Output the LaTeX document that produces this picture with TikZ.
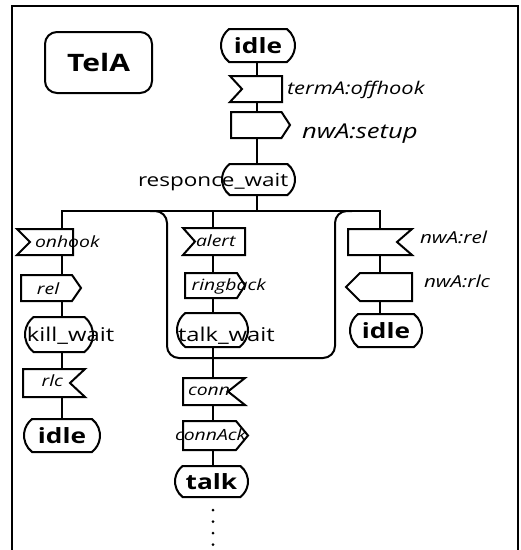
\documentclass[tikz,border=0pt]{standalone}
\usepackage{fontspec}
\setmainfont{Open Sans}[FakeStretch=1.25]
\usetikzlibrary{shapes.misc}

% SDL signal outlines drawn round a (rectangular) frame node
\newcommand\sdlInL[2]{\draw[box] (#1.north west) -- (#1.north east) -- (#1.south east)
  -- (#1.south west) -- ([xshift=#2]#1.west) -- cycle;}
\newcommand\sdlInR[2]{\draw[box] (#1.north west) -- (#1.north east) -- ([xshift=-#2]#1.east)
  -- (#1.south east) -- (#1.south west) -- cycle;}
\newcommand\sdlOutR[2]{\draw[box] (#1.north west) -- ([xshift=-#2]#1.north east) -- (#1.east)
  -- ([xshift=-#2]#1.south east) -- (#1.south west) -- cycle;}
\newcommand\sdlOutL[2]{\draw[box] ([xshift=#2]#1.north west) -- (#1.north east) -- (#1.south east)
  -- ([xshift=#2]#1.south west) -- (#1.west) -- cycle;}

\begin{document}
\begin{tikzpicture}[x=1pt,y=-1pt,
  every node/.style={inner sep=0pt, outer sep=0pt},
  ln/.style={line width=2pt},
  box/.style={draw, line width=2pt, fill=white, line join=miter},
  frame/.style={rectangle},
  statebox/.style={draw, line width=2pt, fill=white, rounded rectangle, rounded rectangle arc length=105},
  sig/.style={anchor=base west, font=\fontsize{15.5}{17}\selectfont\itshape},
  stname/.style={anchor=base west, font=\fontsize{19}{21}\selectfont},
  stbold/.style={font=\fontsize{21}{23}\selectfont\bfseries},
  dotline/.style={line width=3pt, line cap=round, dash pattern=on 0pt off 11.5pt}
]
\useasboundingbox (0,0) rectangle (521,550);

% outer frame, open at the bottom
\draw[line width=1.3pt] (12,550) -- (12,6) -- (518,6) -- (518,550);

% process name
\node[draw, line width=2pt, rounded corners=12pt, minimum width=107pt,
      minimum height=61pt, font=\fontsize{24}{26}\selectfont\bfseries]
      (title) at (98.5,62.5) {TelA};

% column positions
\coordinate (cM) at (257,0);
\coordinate (cL) at (62,0);
\coordinate (cC) at (213,0);
\coordinate (cR) at (380,0);
\coordinate (busL) at (62,211);
\coordinate (busR) at (380,211);

% main column
\node[statebox, stbold, minimum width=74pt, minimum height=33pt] (idleA) at (258,45.5) {idle};
\node[frame, minimum width=52pt, minimum height=26pt] (offhook) at (256,89) {};
\node[frame, minimum width=59pt, minimum height=26pt] (setup) at (260.5,125) {};
\node[statebox, minimum width=73pt, minimum height=31pt] (rwait) at (258.5,179.5) {};
\sdlInL{offhook}{12pt}
\sdlOutR{setup}{8.5pt}

\node[sig, font=\fontsize{17.5}{19}\selectfont\itshape] (lofhk) at (287,94) {termA:offhook};
\node[sig, font=\fontsize{20.5}{22}\selectfont\itshape] (lsetup) at (302,138) {nwA:setup};
\node[stname, font=\fontsize{18}{20}\selectfont] (lrwait) at (138,186.7) {responce\_wait};

% left branch
\node[frame, minimum width=56pt, minimum height=26pt] (onhook) at (45,242) {};
\node[frame, minimum width=60pt, minimum height=26pt] (rel) at (51,288) {};
\node[statebox, minimum width=68pt, minimum height=35pt] (kwait) at (59,334.5) {};
\node[frame, minimum width=62pt, minimum height=28pt] (rlc) at (54,383) {};
\node[statebox, stbold, minimum width=76pt, minimum height=33pt] (idleB) at (62,435.5) {idle};
\sdlInL{onhook}{13pt}
\sdlOutR{rel}{9pt}
\sdlInR{rlc}{15pt}

\node[sig] (lonhk) at (35,247) {onhook};
\node[sig] (lrel) at (37,294) {rel};
\node[stname] (lkwait) at (27,341.7) {kill\_wait};
\node[sig] (lrlc) at (41.7,386.7) {rlc};

% centre branch
\node[frame, minimum width=62pt, minimum height=27pt] (alert) at (214,241.5) {};
\node[frame, minimum width=60pt, minimum height=25pt] (ringbk) at (215,285.5) {};
\node[statebox, minimum width=71pt, minimum height=34pt] (twait) at (212.5,330) {};
\node[frame, minimum width=62pt, minimum height=27pt] (conn) at (214,391.5) {};
\node[frame, minimum width=65pt, minimum height=29pt] (connack) at (215.5,435.5) {};
\node[statebox, stbold, minimum width=73pt, minimum height=31pt] (talk) at (211.5,481.5) {talk};
\sdlInL{alert}{12pt}
\sdlOutR{ringbk}{8pt}
\sdlInR{conn}{17pt}
\sdlOutR{connack}{12pt}

\node[sig] (lalert) at (196,246.7) {alert};
\node[sig] (lringbk) at (191.7,290) {ringback};
\node[stname] (ltwait) at (178,341.7) {talk\_wait};
\node[sig] (lconn) at (188,395) {conn};
\node[sig] (lconnack) at (175,440) {connAck};

% right branch
\node[frame, minimum width=64pt, minimum height=26pt] (nwrel) at (380,242) {};
\node[frame, minimum width=66pt, minimum height=28pt] (nwrlc) at (379,287) {};
\node[statebox, stbold, minimum width=72pt, minimum height=33pt] (idleC) at (386,330.5) {idle};
\sdlInR{nwrel}{15pt}
\sdlOutL{nwrlc}{14pt}

\node[sig, font=\fontsize{16.5}{18}\selectfont\itshape] (lnwrel) at (420,243) {nwA:rel};
\node[sig, font=\fontsize{16.5}{18}\selectfont\itshape] (lnwrlc) at (424,287) {nwA:rlc};

% transitions of the main column
\draw[ln] (idleA.south -| cM) -- (offhook.north -| cM);
\draw[ln] (offhook.south -| cM) -- (setup.north -| cM);
\draw[ln] (setup.south -| cM) -- (rwait.north -| cM);
\draw[ln] (rwait.south -| cM) -- (cM |- busL);

% branching bus
\draw[ln] (onhook.north -| cL) -- (busL) -- (busR) -- (nwrel.north -| cR);
\draw[ln] (cC |- busL) -- (alert.north -| cC);

% enclosing bracket round the centre branch
\draw[ln, rounded corners=12pt] (150,211) -| (167,358) -| (335,211) -- (352,211);

% left branch transitions
\draw[ln] (onhook.south -| cL) -- (rel.north -| cL);
\draw[ln] (rel.south -| cL) -- (kwait.north -| cL);
\draw[ln] (kwait.south -| cL) -- (rlc.north -| cL);
\draw[ln] (rlc.south -| cL) -- (idleB.north -| cL);

% centre branch transitions
\draw[ln] (alert.south -| cC) -- (ringbk.north -| cC);
\draw[ln] (ringbk.south -| cC) -- (twait.north -| cC);
\draw[ln] (twait.south -| cC) -- (conn.north -| cC);
\draw[ln] (conn.south -| cC) -- (connack.north -| cC);
\draw[ln] (connack.south -| cC) -- (talk.north -| cC);
\coordinate (dotend) at (211,547);
\draw[dotline] ([yshift=-13pt]talk.south -| cC) -- (dotend -| cC);

% right branch transitions
\draw[ln] (nwrel.south -| cR) -- (nwrlc.north -| cR);
\draw[ln] (nwrlc.south -| cR) -- (idleC.north -| cR);
\end{tikzpicture}
\end{document}
